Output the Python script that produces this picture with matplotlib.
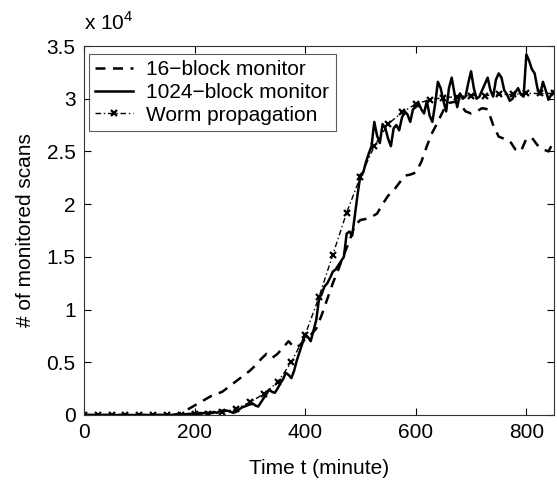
import matplotlib
matplotlib.use("Agg")
import matplotlib.pyplot as plt
import numpy as np

plt.rcParams['font.family'] = ['Liberation Sans', 'DejaVu Sans']
plt.rcParams['mathtext.fontset'] = 'custom'
plt.rcParams['mathtext.rm'] = 'Liberation Sans'

# 1024-block monitor, every 5 minutes (x 10^4 scans)
t_solid = np.arange(0, 851, 5)
solid = [0, 0, 0, 0, 0, 0, 0, 0, 0, 0,
         0, 0, 0, 0, 0, 0, 0, 0, 0, 0,
         0, 0, 0, 0, 0, 0, 0, 0, 0, 0,
         0, 0, 0, 0, 0,
         0.003, 0.005, 0.008, 0.01, 0.012, 0.015, 0.01, 0.02, 0.015, 0.025,
         0.02, 0.02, 0.03, 0.02, 0.035, 0.04, 0.045, 0.04, 0.03, 0.02,
         0.03, 0.05, 0.07, 0.08, 0.09, 0.10, 0.11, 0.09, 0.08, 0.12,
         0.16, 0.20, 0.24, 0.22, 0.21, 0.25, 0.30, 0.34, 0.40, 0.38,
         0.35, 0.42, 0.52, 0.60, 0.68, 0.76, 0.74, 0.70, 0.80, 0.90,
         1.10, 1.15, 1.22, 1.25, 1.30, 1.36, 1.38, 1.42, 1.46, 1.50,
         1.72, 1.74, 1.70, 1.90, 2.10, 2.28, 2.30, 2.40, 2.48, 2.55,
         2.78, 2.65, 2.58, 2.76, 2.72, 2.62, 2.55, 2.72, 2.75, 2.70,
         2.82, 2.88, 2.85, 2.78, 2.90, 2.92, 2.96, 2.90, 2.86, 2.98,
         2.84, 2.78, 2.95, 3.16, 3.10, 2.98, 2.88, 3.10, 3.20, 3.05,
         2.92, 3.05, 3.00, 3.02, 3.15, 3.26, 3.10, 3.00, 3.02, 3.08,
         3.14, 3.20, 3.08, 3.02, 3.18, 3.24, 3.20, 3.08, 3.04, 2.98,
         3.00, 3.06, 3.10, 3.04, 3.02, 3.42, 3.36, 3.28, 3.24, 3.10,
         3.04, 3.16, 3.08, 2.99, 3.04, 3.07]

# 16-block monitor, every 10 minutes (x 10^4 scans)
t_dash = np.arange(0, 851, 10)
dashed = [0, 0, 0, 0, 0, 0, 0, 0, 0, 0, 0, 0, 0, 0, 0, 0, 0,
          0.01, 0.03, 0.06, 0.09, 0.12, 0.15, 0.18, 0.20, 0.22, 0.26,
          0.30, 0.34, 0.38, 0.42, 0.47, 0.53, 0.58, 0.54, 0.58, 0.64,
          0.70, 0.64, 0.66, 0.72, 0.76, 0.82, 0.95, 1.10, 1.25, 1.38,
          1.52, 1.65, 1.80, 1.85, 1.86, 1.88, 1.91, 2.00, 2.08, 2.13,
          2.20, 2.27, 2.28, 2.30, 2.40, 2.55, 2.68, 2.78, 2.89, 2.96,
          2.97, 2.95, 2.88, 2.86, 2.88, 2.91, 2.90, 2.75, 2.64, 2.62,
          2.60, 2.52, 2.50, 2.62, 2.63, 2.56, 2.52, 2.50, 2.60]

# Worm propagation, every 25 minutes (x 10^4 scans)
t_worm = np.arange(0, 851, 25)
worm = [0, 0, 0, 0, 0, 0, 0, 0.002, 0.005, 0.01, 0.025, 0.06, 0.12, 0.20,
        0.31, 0.50, 0.76, 1.12, 1.52, 1.92, 2.26, 2.55, 2.76, 2.87, 2.95,
        2.99, 3.01, 3.02, 3.03, 3.03, 3.04, 3.04, 3.05, 3.05, 3.05]

xticks = [0, 200, 400, 600, 800]
yticks = [0, 0.5, 1, 1.5, 2, 2.5, 3, 3.5]
ytick_labels = ['0', '0.5', '1', '1.5', '2', '2.5', '3', '3.5']

fig = plt.figure(figsize=(5.57, 4.82), dpi=100)
ax = fig.add_axes([84/557, 67/482, 470/557, 369/482])

ax.plot(t_dash, dashed, color='black', linestyle=(0, (4, 3)), linewidth=1.8,
        label='16\u2212block monitor')
ax.plot(t_solid, solid, color='black', linestyle='-', linewidth=1.8,
        label='1024\u2212block monitor')
ax.plot(t_worm, worm, color='black', linestyle=(0, (4, 2, 1, 2)), linewidth=1.0,
        marker='x', markersize=5, markeredgewidth=1.6,
        label='Worm propagation')

ax.set_xlim(0, 850)
ax.set_ylim(0, 3.5)
ax.set_xticks(xticks)
ax.set_yticks(yticks)
ax.set_yticklabels(ytick_labels)
ax.tick_params(direction='in', top=True, right=True, length=5, width=0.8,
               labelsize=15)
ax.tick_params(axis='x', pad=6)
ax.tick_params(axis='y', pad=6)
for s in ax.spines.values():
    s.set_linewidth(0.8)
    s.set_color('#333333')

ax.set_xlabel('Time t (minute)', fontsize=15, labelpad=12)
ax.set_ylabel('# of monitored scans', fontsize=15, labelpad=8)
fig.text(84/557, 1 - 30/482, 'x 10$^{4}$', fontsize=15, ha='left', va='baseline')

leg = ax.legend(loc='upper left', bbox_to_anchor=(5/470, 1 - 8/369), fontsize=15,
                frameon=True, fancybox=False, edgecolor='#333333',
                handlelength=1.8, handletextpad=0.65, borderpad=0.3,
                labelspacing=0.18, borderaxespad=0.0)
leg.get_frame().set_linewidth(0.8)

fig.savefig('out.png', dpi=100)
